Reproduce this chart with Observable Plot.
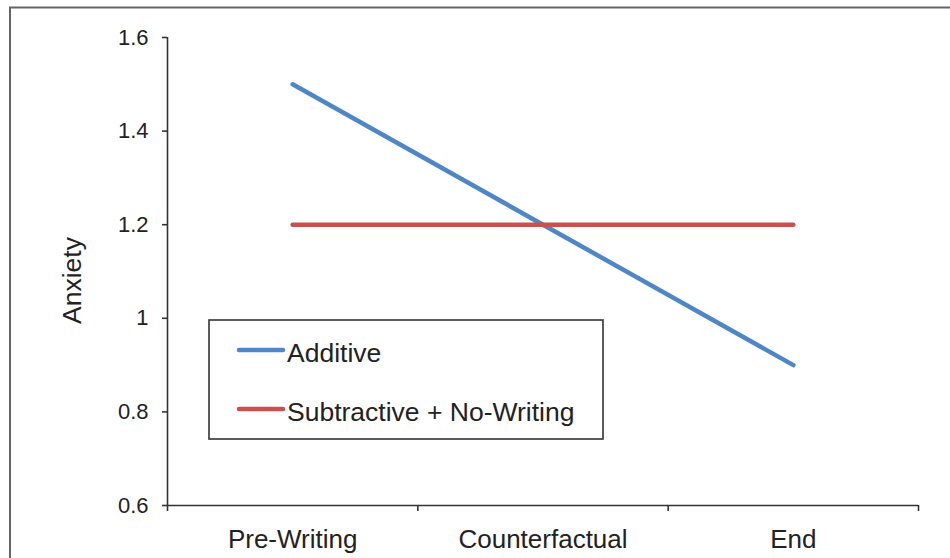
<!DOCTYPE html>
<html>
<head>
<meta charset="utf-8">
<script src="https://cdn.jsdelivr.net/npm/d3@7"></script>
<script src="https://cdn.jsdelivr.net/npm/@observablehq/plot@0.6"></script>
<style>
  html, body { margin: 0; padding: 0; background: #fff; }
  #chart { position: relative; width: 950px; height: 558px; overflow: hidden; }
</style>
</head>
<body>
<div id="chart"></div>
<script>
// ---- data ----
const categories = ["Pre-Writing", "Counterfactual", "End"];
const seriesNames = ["Additive", "Subtractive + No-Writing"];
const additive = [1.5, 1.2, 0.9];
const subtractive = [1.2, 1.2, 1.2];
const seriesColors = ["#4F86C6", "#C9504D"];
const yTicks = [0.6, 0.8, 1, 1.2, 1.4, 1.6];
const yTickLabels = ["0.6", "0.8", "1", "1.2", "1.4", "1.6"];
const yLabel = "Anxiety";

const rows = [];
[additive, subtractive].forEach((vals, s) => {
  vals.forEach((v, i) => rows.push({series: seriesNames[s], pos: i + 0.5, value: v}));
});
const boundaries = categories.map((_, i) => i).concat([categories.length]);
const centers = categories.map((_, i) => i + 0.5);

const font = "'Liberation Sans', Arial, sans-serif";

const chart = Plot.plot({
  width: 950,
  height: 558,
  marginLeft: 167,
  marginRight: 32,
  marginTop: 37,
  marginBottom: 53,
  style: {fontFamily: font, color: "#222", background: "transparent", overflow: "visible"},
  x: {type: "linear", domain: [0, categories.length]},
  y: {domain: [0.6, 1.6]},
  color: {domain: seriesNames, range: seriesColors},
  marks: [
    Plot.ruleX([0], {y1: 0.6, y2: 1.6, stroke: "#333", strokeWidth: 1.6}),
    Plot.ruleY([0.6], {x1: 0, x2: categories.length, stroke: "#333", strokeWidth: 1.6}),
    Plot.axisY({ticks: yTicks, tickSize: 5, tickPadding: 14, fontSize: 22, strokeWidth: 1.6, stroke: "#333",
      tickFormat: d => yTickLabels[yTicks.indexOf(d)], label: null}),
    Plot.axisX({ticks: boundaries, tickSize: 6, strokeWidth: 1.6, stroke: "#333", tickFormat: () => "", label: null}),
    Plot.axisX({ticks: centers, tickSize: 0, tickPadding: 24, fontSize: 26,
      tickFormat: d => categories[Math.round(d - 0.5)], label: null}),
    Plot.text([yLabel], {frameAnchor: "left", textAnchor: "middle", dx: -95, dy: 9, rotate: -90, fontSize: 26.5, fill: "#222"}),
    Plot.line(rows, {x: "pos", y: "value", z: "series", stroke: "series", strokeWidth: 4.5, strokeLinecap: "round"})
  ]
});

document.getElementById("chart").appendChild(chart);

// outer border and legend box
const svg = d3.select(chart);
svg.append("path").attr("d", "M10,560V7.5H952").attr("fill", "none").attr("stroke", "#666").attr("stroke-width", 2);

const lg = svg.append("g");
lg.append("rect").attr("x", 209).attr("y", 320).attr("width", 394).attr("height", 119)
  .attr("fill", "#fff").attr("stroke", "#333").attr("stroke-width", 1.6);
const rowsY = [350, 409];
seriesNames.forEach((name, i) => {
  lg.append("line").attr("x1", 239).attr("x2", 283).attr("y1", rowsY[i]).attr("y2", rowsY[i])
    .attr("stroke", seriesColors[i]).attr("stroke-width", 4.5).attr("stroke-linecap", "round");
  lg.append("text").attr("x", 287).attr("y", rowsY[i] + 12).attr("font-size", 26.5)
    .attr("text-anchor", "start").attr("font-family", font).attr("fill", "#222").text(name);
});
</script>
</body>
</html>
